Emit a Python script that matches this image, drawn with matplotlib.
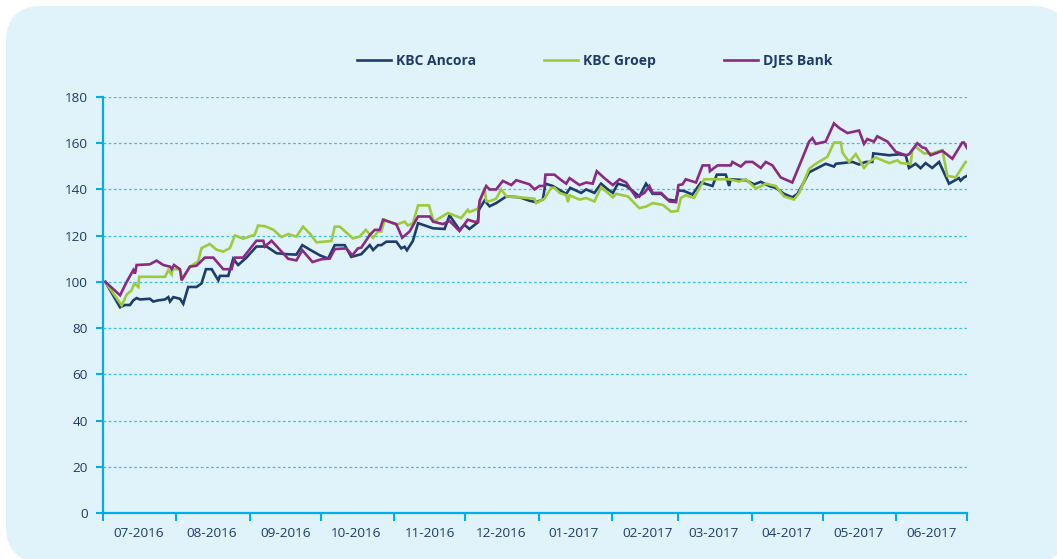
import pandas as pd
import matplotlib
matplotlib.use("Agg")
import matplotlib.pyplot as plt
import matplotlib.dates as mdates
from matplotlib.patches import FancyBboxPatch

# day offsets from 2016-07-01 and index values (base 100)
ancora_days = [1, 7.2, 9.3, 11.4, 12.8, 14.2, 15.6, 19.8, 21.2, 23.3,
               26.2, 27.6, 28.3, 29.7, 32.5, 33.9, 36.0, 39.5, 41.6, 43.5,
               45.9, 48.7, 49.4, 52.9, 55.0, 57.1, 60.6, 64.8, 69.1, 73.3,
               77.5, 81.7, 84.2, 87.3, 91.6, 95.1, 97.9, 102.1, 104.9, 109.1,
               112.7, 114.1, 116.2, 117.6, 119.7, 123.9, 126.0, 127.4, 128.4, 130.9,
               133.1, 139.4, 144.3, 146.4, 150.6, 152.7, 154.8, 157.0, 158.4, 158.8,
               161.2, 163.3, 166.1, 170.4, 176.0, 180.2, 183.0, 185.8, 186.9, 190.0,
               193.6, 195.7, 197.4, 199.9, 202.0, 204.1, 207.6, 210.4, 213.3, 215.4,
               217.5, 221.0, 223.8, 226.6, 229.4, 232.2, 235.8, 238.6, 242.0, 243.1,
               245.5, 249.0, 252.6, 257.5, 259.3, 263.1, 264.5, 265.2, 271.5, 275.1,
               277.9, 281.4, 284.2, 287.7, 291.2, 293.4, 298.3, 301.1, 305.3, 308.8,
               309.6, 316.6, 319.4, 322.2, 325.0, 325.4, 332.1, 336.3, 339.1, 340.5,
               343.3, 345.4, 347.5, 350.3, 353.2, 357.4, 361.6, 362.3, 363.7, 365.1]
ancora_vals = [100, 89, 90, 90, 92, 93, 92.4, 92.7, 91.5, 92,
               92.4, 93.4, 91.5, 93.4, 92.7, 90.5, 97.8, 97.8, 99.3, 105.5,
               105.5, 100.7, 102.6, 102.6, 110, 107.3, 110.5, 115.3, 115.3, 112.4,
               112, 111.8, 115.9, 114, 111.5, 110.1, 115.9, 115.9, 110.8, 112,
               115.9, 113.8, 115.9, 115.9, 117.4, 117.4, 114.5, 115.2, 113.7, 117.7,
               125.4, 123.2, 122.9, 128.8, 122.5, 124.7, 122.9, 124.7, 125.8, 131.2,
               135.2, 132.7, 134.1, 137, 136.6, 135.1, 134.5, 135.6, 142.5, 141.5,
               139.3, 138.1, 140.7, 139.5, 138.5, 140, 138.5, 142.5, 140, 138.5,
               142.5, 141.5, 139.3, 137, 142.5, 138.1, 138.1, 135.6, 135.1, 139.6,
               139.3, 137.8, 143, 141.5, 146.4, 146.4, 141.5, 144.4, 144, 142.2,
               143.3, 141.5, 140.7, 138.1, 136.6, 138.1, 147.4, 148.9, 151.1, 149.9,
               151.1, 151.9, 150.8, 151.9, 151.9, 155.6, 154.8, 155.2, 154.8, 149.3,
               151.1, 149.2, 151.4, 149.3, 151.9, 142.5, 144.9, 143.8, 145.2, 145.9]

groep_days = [1, 7.9, 10.0, 12.1, 13.2, 14.9, 15.3, 26.2, 27.6, 29.0,
              29.4, 32.5, 33.6, 36.7, 40.2, 41.6, 45.1, 48.0, 50.8, 53.6,
              55.7, 59.2, 64.1, 65.5, 68.4, 71.9, 75.4, 78.2,
              81.7, 84.5, 87.3, 90.2, 96.5, 97.9, 100.0, 105.6, 108.4, 111.0,
              114.1, 116.2, 117.6, 119.0, 123.9, 127.4, 128.8, 130.9, 133.1, 137.7,
              139.7, 145.7, 151.3, 154.1, 154.8, 158.4, 161.2, 161.9, 163.3,
              166.1, 168.2, 170.4, 176.0, 182.3, 183.0, 186.5, 189.3, 190.7, 192.9,
              195.7, 196.4, 197.1, 201.3, 204.1, 207.6, 210.4, 215.4, 216.8, 221.7,
              226.6, 229.4, 232.2, 236.5, 240.0, 242.8,
              244.1, 246.2, 249.7, 254.0, 264.5, 268.7, 271.5, 275.8, 280.0, 284.2,
              287.7, 291.9, 294.1, 298.3,
              301.1, 306.0, 308.8, 311.7, 312.4, 315.2, 318.0, 321.5, 323.6, 326.4,
              332.1, 335.6, 337.0, 341.2, 341.9, 343.3, 346.8, 350.3, 354.6, 356.7,
              360.2, 364.4, 365.1]
groep_vals = [100, 89.8, 94.5, 96.4, 99.3, 97.8, 102.2, 102.2, 105.1, 103.2,
              105.5, 105.5, 101.5, 106.6, 108.8, 114.6, 116.4, 113.9, 113.1, 114.6,
              120.1, 118.7, 120.4, 124.4, 124.1, 122.6, 119.4, 120.7,
              119.6, 123.9, 121, 117.1, 117.7, 123.9, 123.9, 118.8, 119.6, 122.5,
              119.1, 121.8, 121.8, 126.9, 124.7, 126.1, 124.4, 125.4, 133.1, 133.1,
              126.1, 129.8, 127.6, 131.2, 130.2, 131.7, 140.7, 134.9, 134.9,
              136, 140, 137, 136.6, 136, 134.1, 136, 140.7, 140.7, 138.5,
              137.5, 134.5, 137.5, 135.6, 136.3, 134.8, 141, 136.6, 138.1, 137,
              131.9, 132.6, 134.1, 133.3, 130.4, 130.7,
              136.3, 137.5, 136.3, 144.4, 144.4, 143.4, 144.4, 140.4, 142.5, 141.5,
              137, 135.6, 138.5, 148.9,
              151.1, 154.1, 160.3, 160.3, 155.9, 151.9, 155.3, 149.3, 151.9, 153.8,
              151.4, 152.6, 151.4, 151.1, 157, 158.5, 155.6, 155.6, 157, 145.9,
              145.2, 151.9, 151.9]

djes_days = [1, 7.2, 10.0, 12.8, 13.5, 14.2, 19.8, 22.6, 25.5, 28.3,
             29.0, 30.0, 32.5, 33.2, 36.7, 39.5, 43.0, 46.6, 50.8, 54.3,
             55.7, 59.2, 64.8, 67.7, 68.4, 71.2, 74.7, 78.2,
             81.7, 84.2, 88.5, 92.3, 95.8, 97.9, 102.8, 105.3, 107.7, 109.1,
             112.7, 114.8, 116.9, 118.3, 123.9, 126.4, 129.5, 133.1, 138.0, 139.4,
             143.6, 146.4, 150.6, 154.1, 157.0, 158.4, 159.1, 161.9, 163.3,
             166.1, 168.9, 172.5, 174.6, 180.2, 182.3, 184.4, 186.5, 186.9, 190.7,
             193.6, 195.7, 197.1, 201.3, 204.1, 206.9, 208.6, 211.8, 215.4, 218.2,
             221.0, 225.2, 228.7, 230.8, 232.2, 235.8, 239.3, 242.1,
             243.1, 244.8, 246.2, 250.5, 253.3, 256.1, 256.4, 259.6, 265.2, 265.9,
             269.4, 271.5, 274.4, 277.9, 280.0, 282.8, 286.3, 291.2, 294.8, 298.3,
             299.7, 301.1,
             305.3, 308.8, 311.0, 314.5, 319.4, 321.5, 322.9, 325.7, 327.1, 331.4,
             334.9, 339.1, 340.5, 344.0, 346.1, 347.5, 349.6, 354.6, 358.8, 363.0,
             363.7, 365.1]
djes_vals = [100, 94.2, 100, 105.1, 103.6, 107.3, 107.6, 109.2, 107.3, 106.6,
             105.5, 107.3, 105.5, 100.7, 106.6, 107, 110.5, 110.5, 105.5, 105.5,
             110.5, 110.5, 117.8, 117.8, 115.3, 117.8, 113.9, 110,
             109.3, 113.7, 108.6, 109.8, 110.1, 114.2, 114.5, 111.5, 114.5, 114.8,
             120.3, 122.5, 122.5, 126.9, 125, 119.1, 121.8, 128.3, 128.3, 126.1,
             125, 126.4, 122, 126.9, 126, 126, 135.2, 141.5, 140,
             140, 143.7, 141.9, 144, 142.2, 140, 141.5, 141.5, 146.4, 146.4,
             144, 142.5, 144.9, 141.9, 143, 142.5, 147.9, 144.9, 141.9, 144.4,
             143, 136.6, 138.5, 141.5, 138.5, 138.5, 134.8, 134.5,
             141.9, 142.2, 144.4, 143, 150.4, 150.4, 147.9, 150.4, 150.4, 151.9,
             149.9, 151.9, 151.9, 149.3, 151.9, 150.4, 145.2, 143, 151.9, 160.7,
             162.2, 159.7,
             160.7, 168.6, 166.6, 164.4, 165.5, 159.7, 161.8, 160.7, 163, 160.7,
             156.3, 154.8, 155.2, 160, 158.2, 157.8, 154.8, 156.7, 153.3, 160.3,
             160.3, 157.8]

series_names = ["KBC Ancora", "KBC Groep", "DJES Bank"]
series_colors = ["#1b3e6f", "#9fca3c", "#8a2a85"]
y_ticks = [0, 20, 40, 60, 80, 100, 120, 140, 160, 180]

CYAN = "#00aeef"
TEXT = "#1d3c6c"
PANEL = "#e0f2fa"


def to_dates(days):
    base = pd.Timestamp("2016-07-01")
    return base + pd.to_timedelta(days, unit="D")


def main():
    plt.rcParams["font.family"] = ["Open Sans", "DejaVu Sans"]
    W, H = 1057, 559
    fig = plt.figure(figsize=(W / 100, H / 100), dpi=100)
    fig.patch.set_facecolor("white")

    # rounded background panel
    bg = fig.add_axes([0, 0, 1, 1])
    bg.set_xlim(0, W)
    bg.set_ylim(H, 0)
    bg.axis("off")
    bg.add_patch(FancyBboxPatch((6, 6), 1062, 556,
                                boxstyle="round,pad=0,rounding_size=36",
                                facecolor=PANEL, edgecolor="none"))

    ax = fig.add_axes([103 / W, (H - 513) / H, (967 - 103) / W, (513 - 97) / H])
    ax.set_facecolor("none")

    all_days = [ancora_days, groep_days, djes_days]
    all_vals = [ancora_vals, groep_vals, djes_vals]
    for d, v, name, c in zip(all_days, all_vals, series_names, series_colors):
        ax.plot(to_dates(d), v, color=c, lw=1.9, label=name, solid_joinstyle="miter")

    ax.set_xlim(pd.Timestamp("2016-07-01"), pd.Timestamp("2017-07-01"))
    ax.set_ylim(0, 180)
    ax.set_yticks(y_ticks)

    ax.xaxis.set_major_locator(mdates.MonthLocator())
    ax.xaxis.set_major_formatter(plt.NullFormatter())
    ax.xaxis.set_minor_locator(mdates.MonthLocator(bymonthday=16))
    ax.xaxis.set_minor_formatter(mdates.DateFormatter("%m-%Y"))
    ax.tick_params(axis="x", which="major", length=6, width=1.5, color=CYAN)
    ax.tick_params(axis="x", which="minor", length=0, pad=10, labelsize=9.7, labelcolor=TEXT)
    ax.tick_params(axis="y", length=5, width=1.5, color=CYAN, pad=6, labelsize=9.7, labelcolor=TEXT)

    for s in ["top", "right"]:
        ax.spines[s].set_visible(False)
    for s in ["left", "bottom"]:
        ax.spines[s].set_color(CYAN)
        ax.spines[s].set_linewidth(1.6)

    ax.set_axisbelow(True)
    ax.yaxis.grid(True, color="#3fbdee", lw=0.9, linestyle=(0, (2.2, 1.9)))

    leg = ax.legend(loc="center", bbox_to_anchor=(0.569, 1.0 + 36 / 416), ncol=3,
                    frameon=False, handlelength=2.45, handletextpad=0.35,
                    columnspacing=4.9, prop={"weight": "bold", "size": 10})
    for t in leg.get_texts():
        t.set_color(TEXT)

    fig.savefig("out.png", dpi=100)


if __name__ == "__main__":
    main()
